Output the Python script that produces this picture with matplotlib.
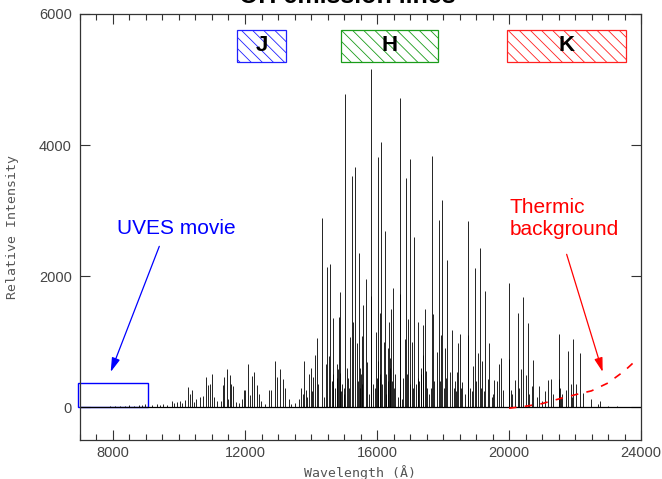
import matplotlib
matplotlib.use("Agg")
import matplotlib.pyplot as plt
from matplotlib.patches import Rectangle
from matplotlib.ticker import MultipleLocator

# OH airglow line list: wavelength (Å) and relative intensity, grouped by region
vis_wl = [7400, 7700, 7900, 8050, 8200, 8350, 8500, 8650, 8780, 8880, 8970,
          9180, 9330, 9430, 9530, 9630, 9780, 9860, 9930, 10030, 10100, 10180]
vis_int = [8, 10, 15, 12, 18, 25, 30, 20, 35, 40, 45,
           30, 55, 40, 45, 30, 100, 70, 80, 90, 70, 110]

yj_wl = [10270, 10330, 10390, 10455, 10525, 10635, 10730, 10820, 10880, 10945,
         11010, 11070, 11150, 11270, 11330, 11370, 11440, 11500, 11545, 11575,
         11645, 11715, 11815, 11915, 11970, 12015, 12100, 12150, 12225, 12285,
         12355, 12410, 12485, 12610, 12740, 12785, 12900, 12980, 13060, 13140,
         13200, 13335, 13405, 13530, 13650, 13700, 13745, 13800, 13840, 13890,
         13940, 14000, 14040, 14070, 14110, 14170, 14220]
yj_int = [310, 209, 260, 80, 120, 150, 178, 463, 336, 362,
          514, 150, 100, 90, 336, 463, 576, 120, 499, 362,
          321, 80, 60, 120, 260, 260, 667, 180, 473, 530,
          336, 200, 100, 50, 270, 260, 702, 463, 580, 438,
          300, 120, 50, 70, 130, 300, 200, 702, 260, 150,
          504, 591, 250, 463, 794, 1049, 350]

h_wl = [14340, 14385, 14445, 14495, 14555, 14585, 14625, 14655, 14675, 14735,
        14780, 14800, 14825, 14840, 14880, 14890, 14915, 14940, 14985, 15000,
        15045, 15080, 15120, 15140, 15180, 15230, 15280, 15340, 15385, 15410,
        15440, 15470, 15490, 15520, 15535, 15560, 15585, 15655, 15705, 15760,
        15825, 15830, 15880, 15935, 15960, 15985, 16020, 16045, 16080, 16095,
        16130, 16165, 16200, 16230, 16260, 16280, 16325, 16340, 16365, 16380,
        16400, 16425, 16460, 16495, 16530, 16550, 16630, 16690, 16700, 16710,
        16760, 16800, 16850, 16890, 16915, 16945, 16985, 17005, 17070, 17095,
        17130, 17185, 17230, 17255, 17285, 17325, 17345, 17380, 17405, 17440,
        17475, 17515, 17575, 17635, 17665, 17685, 17720, 17820, 17870, 17900]
h_int = [2891, 150, 652, 2143, 784, 2179, 400, 500, 1364, 300,
         657, 450, 580, 1379, 1761, 520, 250, 350, 200, 300,
         4775, 600, 450, 300, 1074, 3533, 1303, 3660, 973, 400,
         2357, 600, 300, 500, 1084, 350, 1557, 1949, 692, 200,
         5156, 1700, 350, 300, 1150, 450, 3822, 700, 1440, 500,
         4052, 350, 1000, 2693, 500, 200, 400, 900, 1303, 600,
         750, 1492, 400, 1812, 300, 500, 150, 4714, 1726, 250,
         120, 450, 1034, 3502, 500, 1339, 350, 3787, 1000, 300,
         2601, 350, 1303, 450, 400, 500, 600, 1262, 800, 1492,
         550, 300, 200, 300, 3833, 1430, 400, 845, 2855, 400]

k_wl = [17945, 17975, 18020, 18065, 18100, 18120, 18210, 18260, 18320, 18350,
        18390, 18420, 18460, 18515, 18540, 18585, 18665, 18745, 18765, 18815,
        18865, 18915, 18975, 19010, 19055, 19120, 19160, 19185, 19230, 19260,
        19350, 19400, 19470, 19510, 19550, 19640, 19700, 19765, 19825, 19995,
        20010, 20065, 20100, 20185, 20280, 20300, 20360, 20420, 20520, 20565,
        20600, 20685, 20735, 20855, 20905, 21000, 21095, 21185, 21260, 21320,
        21500, 21510, 21540, 21590, 21620, 21720, 21800, 21870, 21900, 21950,
        22040, 22140, 22240, 22485, 22710, 22750, 22990, 23260]
k_int = [1100, 3161, 300, 911, 450, 2245, 534, 1176, 300, 402,
         250, 539, 973, 1115, 300, 386, 200, 2845, 1100, 300,
         250, 626, 2118, 400, 829, 2423, 300, 707, 250, 1767,
         438, 973, 150, 209, 412, 402, 667, 744, 270, 1898,
         740, 270, 200, 412, 1431, 300, 576, 1675, 493, 1288,
         200, 321, 728, 150, 331, 100, 250, 412, 438, 200,
         1115, 438, 300, 150, 200, 260, 860, 362, 150, 1034,
         362, 820, 218, 118, 46, 92, 20, 15]

# Thermal background rising toward the long-wavelength end
thermic_wl = [20000, 20500, 21000, 21500, 22000, 22500, 23000, 23500, 23900]
thermic_int = [-15, 15, 55, 125, 190, 250, 370, 555, 740]

# Photometric bands
band_names = ["J", "H", "K"]
band_lo = [11750, 14900, 19950]
band_hi = [13250, 17850, 23550]
band_colors = ["#2020ff", "#1a9c1a", "#ff2020"]
band_y = [5270, 5760]

# UVES coverage box
uves_x = [6950, 9050]
uves_y = [0, 370]

tick_font = {"family": "Liberation Sans", "size": 10.5, "color": "#444444"}
label_font = {"family": "DejaVu Sans Mono", "size": 9.5, "color": "#555555"}

fig = plt.figure(figsize=(6.62, 4.79), dpi=100)
ax = fig.add_axes([80 / 662, 39 / 479, 561 / 662, 426 / 479])
ax.set_xlim(7000, 24000)
ax.set_ylim(-500, 6000)

wl = vis_wl + yj_wl + h_wl + k_wl
inten = vis_int + yj_int + h_int + k_int
ax.vlines(wl, 0, inten, colors="black", linewidth=0.6)
ax.axhline(0, color="black", linewidth=0.9)

ax.plot(thermic_wl, thermic_int, color="red", linewidth=1.2,
        linestyle=(0, (4.5, 5)))

plt.rcParams["hatch.linewidth"] = 0.6
for name, lo, hi, col in zip(band_names, band_lo, band_hi, band_colors):
    ax.add_patch(Rectangle((lo, band_y[0]), hi - lo, band_y[1] - band_y[0],
                           facecolor="white", edgecolor=col, hatch="\\\\\\",
                           linewidth=0.9))
    ax.text((lo + hi) / 2, (band_y[0] + band_y[1]) / 2, name,
            ha="center", va="center", fontsize=16, fontweight="bold",
            family="Liberation Sans", color="black")

ax.add_patch(Rectangle((uves_x[0], uves_y[0]), uves_x[1] - uves_x[0],
                       uves_y[1] - uves_y[0], facecolor="none",
                       edgecolor="blue", linewidth=1.0, clip_on=False))

ax.text(9909, 2649, "UVES movie", color="blue", fontsize=15,
        family="Liberation Sans", ha="center", va="baseline")
ax.annotate("", xy=(7930, 538), xytext=(9403, 2455),
            arrowprops=dict(arrowstyle="-|>,head_length=0.85,head_width=0.25",
                            color="blue", lw=0.9, shrinkA=0, shrinkB=0,
                            mutation_scale=10))

ax.text(20029, 2623, "Thermic\nbackground", color="red", fontsize=15,
        family="Liberation Sans", ha="left", va="baseline", linespacing=1.25)
ax.annotate("", xy=(22838, 538), xytext=(21747, 2333),
            arrowprops=dict(arrowstyle="-|>,head_length=0.85,head_width=0.25",
                            color="red", lw=0.9, shrinkA=0, shrinkB=0,
                            mutation_scale=10))

ax.xaxis.set_major_locator(MultipleLocator(4000))
ax.xaxis.set_minor_locator(MultipleLocator(500))
ax.yaxis.set_major_locator(MultipleLocator(2000))
ax.tick_params(which="both", direction="in", top=True, right=True,
               color="#333333", width=0.8)
ax.tick_params(which="major", length=7.5)
ax.tick_params(which="minor", length=4.5)
ax.tick_params(axis="x", pad=4)
ax.tick_params(axis="y", pad=6)
for lab in ax.get_xticklabels() + ax.get_yticklabels():
    lab.set_fontfamily(tick_font["family"])
    lab.set_fontsize(tick_font["size"])
    lab.set_color(tick_font["color"])
for sp in ax.spines.values():
    sp.set_color("#333333")
    sp.set_linewidth(0.9)

ax.set_xlabel("Wavelength (Å)", fontdict=label_font, labelpad=4)
ax.set_ylabel("Relative Intensity", fontdict=label_font, labelpad=14)

fig.text(347 / 662, 1 - 3 / 479, "OH emission lines", ha="center",
         va="baseline", fontsize=18, fontweight="bold",
         family="Liberation Sans")

fig.savefig("out.png", dpi=100)
